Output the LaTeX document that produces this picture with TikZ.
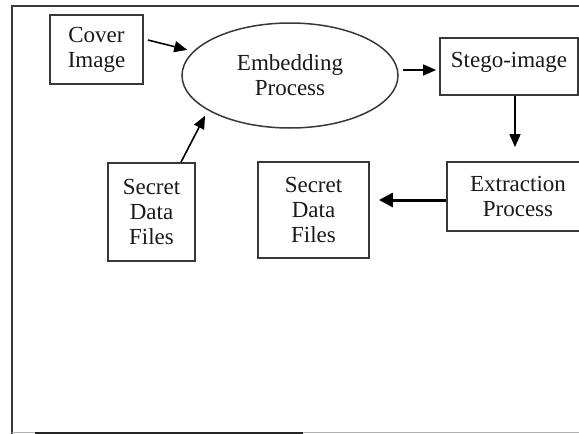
\documentclass[tikz,border=0pt]{standalone}
\usepackage{fontspec}
\setmainfont{Liberation Serif}
\usetikzlibrary{arrows.meta,shapes.geometric,calc}
\definecolor{boxgray}{HTML}{383838}
\definecolor{txt}{HTML}{1A1A1A}
\newcommand{\dfont}{\fontsize{23}{25}\selectfont}
\begin{document}
\begin{tikzpicture}[x=1pt,y=-1pt,
  box/.style={draw=boxgray,line width=1.8pt,rectangle,inner sep=0pt,align=center,font=\dfont,text=txt},
  procell/.style={ellipse,draw=boxgray,line width=1.5pt,inner sep=0pt,align=center,font=\dfont,text=txt},
  arr/.style={draw=black,line width=1.6pt,-{Triangle[length=13pt,width=11pt]}},
  thickarr/.style={draw=black,line width=3pt,-{Triangle[length=14pt,width=14pt]}},
  frameline/.style={draw=boxgray,line width=2pt}
]
\useasboundingbox (0,0) rectangle (579,434);
\clip (0,0) rectangle (579,434);
\fill[white] (0,0) rectangle (579,434);
% frame
\draw[frameline] (12,434) -- (12,6) -- (579,6);
\draw[gray!60,line width=1pt] (12,432) -- (579,432);
\draw[black!85,line width=2pt] (35,433) -- (303,433);
% nodes
\node[box,minimum width=93pt,minimum height=69pt] (cover) at (96.5,49.5) {Cover\\Image};
\node[procell,minimum width=216pt,minimum height=105pt] (emb) at (290,75.5) {Embedding\\Process};
\node[box,minimum width=138pt,minimum height=57pt,text depth=12.4pt] (stego) at (509,66.5) {Stego-image};
\node[box,minimum width=142pt,minimum height=69pt] (extr) at (518,196.5) {Extraction\\Process};
\node[box,minimum width=87pt,minimum height=98pt] (sec1) at (151.5,212) {Secret\\Data\\Files};
\node[box,minimum width=111pt,minimum height=96pt] (sec2) at (313.5,210) {Secret\\Data\\Files};
% connectors
\draw[arr,shorten >=6pt] ([xshift=4pt,yshift=9.5pt]cover.east) -- (emb.166);
\draw[arr,shorten >=6pt] ([xshift=29.5pt]sec1.north) -- (emb.203);
\draw[arr,shorten >=3pt] ([xshift=4pt,yshift=5.5pt]emb.east) -- ([yshift=-3.5pt]stego.west);
\draw[arr,shorten >=14pt] ([xshift=6pt]stego.south) -- ([xshift=-3pt]extr.north);
\draw[thickarr,shorten >=9pt] ([yshift=-3.5pt]extr.west) -- ([yshift=10pt]sec2.east);
\end{tikzpicture}
\end{document}
